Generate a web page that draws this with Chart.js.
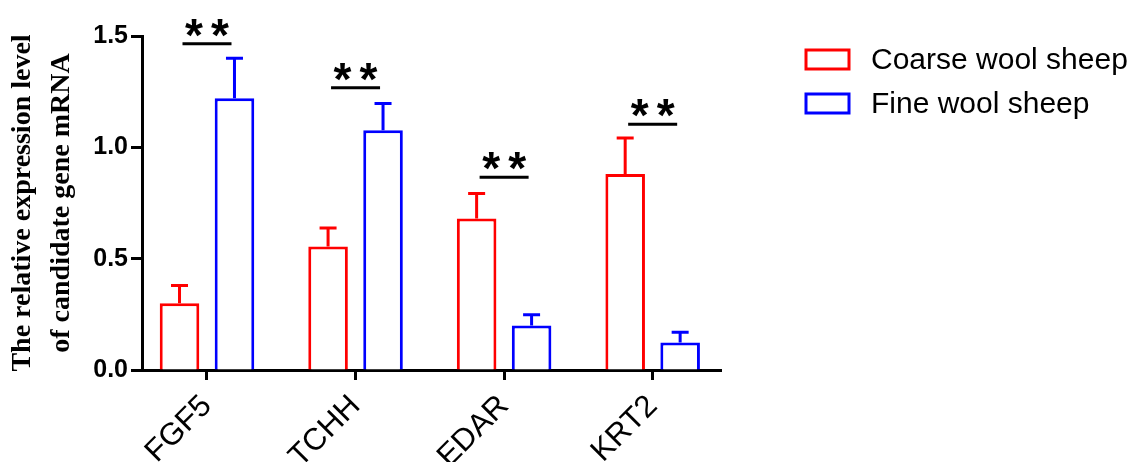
<!DOCTYPE html>
<html>
<head>
<meta charset="utf-8">
<script src="https://cdn.jsdelivr.net/npm/chart.js@4.4.1/dist/chart.umd.min.js"></script>
<style>
  html, body { margin: 0; padding: 0; background: #fff; }
</style>
</head>
<body>
<canvas id="geneChart" width="1141" height="462"></canvas>
<script>
const genes = ['FGF5', 'TCHH', 'EDAR', 'KRT2'];
const coarseMean = [0.30, 0.555, 0.68, 0.88];
const coarseSd = [0.08, 0.083, 0.113, 0.162];
const fineMean = [1.22, 1.077, 0.20, 0.123];
const fineSd = [0.18, 0.12, 0.048, 0.047];
const sigHeight = [1.465, 1.268, 0.866, 1.104];
const sigMark = ['**', '**', '**', '**'];
const yTicks = [0, 0.5, 1.0, 1.5];

const SANS = '"Liberation Sans", Arial, sans-serif';
const SERIF = '"Liberation Serif", "Times New Roman", serif';

// upper error bars only, like the prism style
const errorBars = {
    id: 'errorBars',
    afterDatasetsDraw(chart) {
        const ctx = chart.ctx;
        const y = chart.scales.y;
        chart.data.datasets.forEach((ds, d) => {
            const meta = chart.getDatasetMeta(d);
            ctx.save();
            ctx.strokeStyle = ds.borderColor;
            ctx.lineWidth = 3;
            meta.data.forEach((bar, i) => {
                const top = y.getPixelForValue(ds.data[i].y);
                const cap = y.getPixelForValue(ds.data[i].y + ds.sd[i]);
                ctx.beginPath();
                ctx.moveTo(bar.x, top);
                ctx.lineTo(bar.x, cap);
                ctx.moveTo(bar.x - 8.5, cap);
                ctx.lineTo(bar.x + 8.5, cap);
                ctx.stroke();
            });
            ctx.restore();
        });
    }
};

const sigMarks = {
    id: 'sigMarks',
    afterDatasetsDraw(chart) {
        const ctx = chart.ctx;
        const x = chart.scales.x, y = chart.scales.y;
        ctx.save();
        ctx.strokeStyle = '#000';
        ctx.fillStyle = '#000';
        ctx.lineWidth = 3;
        ctx.font = 'bold 46px ' + SANS;
        ctx.textAlign = 'center';
        ctx.textBaseline = 'alphabetic';
        sigHeight.forEach((h, i) => {
            const cx = x.getPixelForValue(i);
            const ly = y.getPixelForValue(h);
            ctx.beginPath();
            ctx.moveTo(cx - 24.5, ly);
            ctx.lineTo(cx + 24.5, ly);
            ctx.stroke();
            const chars = sigMark[i].split('');
            chars.forEach((c, k) => {
                ctx.fillText(c, cx + (k - (chars.length - 1) / 2) * 26, ly + 7);
            });
        });
        ctx.restore();
    }
};

const sideLegend = {
    id: 'sideLegend',
    afterDraw(chart) {
        const ctx = chart.ctx;
        ctx.save();
        ctx.font = '30px ' + SANS;
        ctx.textBaseline = 'middle';
        ctx.textAlign = 'left';
        chart.data.datasets.forEach((ds, d) => {
            const cy = 59.5 + d * 44;
            ctx.fillStyle = '#fff';
            ctx.fillRect(806, cy - 9.5, 43, 19);
            ctx.strokeStyle = ds.borderColor;
            ctx.lineWidth = 3;
            ctx.strokeRect(806, cy - 9.5, 43, 19);
            ctx.fillStyle = '#000';
            ctx.fillText(ds.label, 871, cy + 1);
        });
        ctx.restore();
    }
};

new Chart(document.getElementById('geneChart'), {
    type: 'bar',
    data: {
        datasets: [{
            label: 'Coarse wool sheep',
            data: coarseMean.map((v, i) => ({x: i, y: v})),
            sd: coarseSd,
            backgroundColor: '#ffffff',
            borderColor: '#ff0000',
            borderWidth: 3
        }, {
            label: 'Fine wool sheep',
            data: fineMean.map((v, i) => ({x: i, y: v})),
            sd: fineSd,
            backgroundColor: '#ffffff',
            borderColor: '#0000ff',
            borderWidth: 3
        }]
    },
    options: {
        responsive: false,
        animation: false,
        devicePixelRatio: 1,
        categoryPercentage: 0.74,
        barPercentage: 0.72,
        layout: { padding: { top: 36, right: 420, left: 0, bottom: 0 } },
        plugins: {
            legend: { display: false },
            tooltip: { enabled: false }
        },
        scales: {
            x: {
                type: 'linear',
                offset: false,
                min: -0.4375,
                max: 3.46,
                afterFit: s => { s.height = 92; },
                ticks: {
                    stepSize: 1,
                    includeBounds: false,
                    autoSkip: false,
                    minRotation: 45,
                    maxRotation: 45,
                    padding: 8,
                    color: '#000',
                    font: { family: SANS, size: 31 },
                    callback: v => genes[v] ?? ''
                },
                grid: { offset: false, drawOnChartArea: false, tickLength: 10, tickWidth: 3, color: '#000' },
                border: { display: true, width: 3, color: '#000' }
            },
            y: {
                min: 0,
                max: 1.5,
                afterFit: s => { s.width = 142; },
                afterBuildTicks: s => { s.ticks = yTicks.map(v => ({value: v})); },
                ticks: {
                    padding: 3,
                    color: '#000',
                    font: { family: SANS, size: 25, weight: 'bold' },
                    callback: v => v.toFixed(1)
                },
                grid: { drawOnChartArea: false, tickLength: 11, tickWidth: 3, color: '#000' },
                border: { display: true, width: 3, color: '#000' },
                title: {
                    display: true,
                    text: ['The relative expression level', 'of candidate gene mRNA'],
                    color: '#000',
                    font: { family: SERIF, size: 28, weight: 'bold', lineHeight: 1.4 },
                    padding: { top: 3, bottom: 0 }
                }
            }
        }
    },
    plugins: [errorBars, sigMarks, sideLegend]
});
</script>
</body>
</html>
